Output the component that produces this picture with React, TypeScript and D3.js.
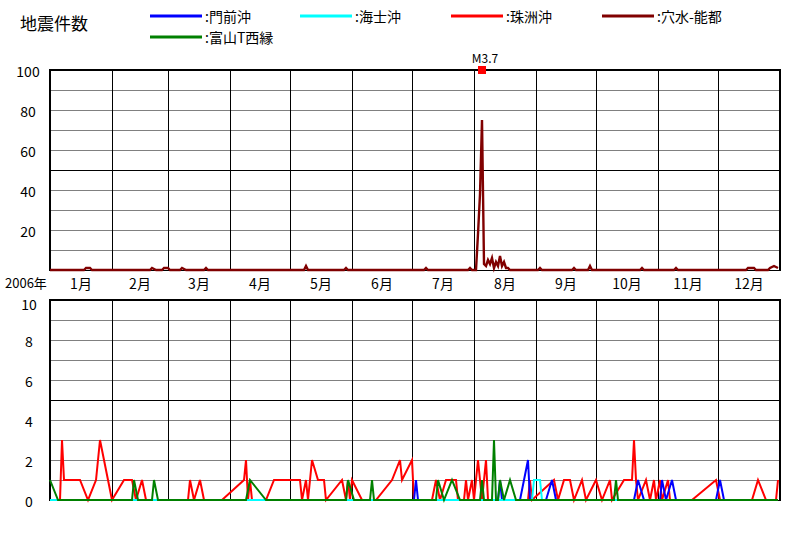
import React from 'react';
import * as d3 from 'd3';

// ---- data ----
// Each point: [day index from 2006-01-01 (0 = Jan 1), number of earthquakes]
const monthLabels = ['1月', '2月', '3月', '4月', '5月', '6月', '7月', '8月', '9月', '10月', '11月', '12月'];
const topTicks = [20, 40, 60, 80, 100];
const bottomTicks = [0, 2, 4, 6, 8, 10];

const monzenOki: [number, number][] = [
  [0, 0], [182, 0], [183, 1], [184, 0], [224, 0], [225, 1], [226, 0], [235, 0], [239, 2], [240, 0],
  [248, 0], [251, 1], [253, 0], [292, 0], [294, 1], [297, 0], [305, 0], [306, 1], [308, 0], [311, 1],
  [313, 0], [333, 0], [335, 1], [337, 0], [364, 0],
];

const amaOki: [number, number][] = [
  [0, 0], [241, 0], [242, 1], [245, 1], [246, 0], [364, 0],
];

const suzuOki: [number, number][] = [
  [0, 0], [5, 0], [6, 3], [7, 1], [15, 1], [19, 0], [23, 1], [25, 3], [31, 0], [37, 1], [41, 1], [43, 0],
  [46, 1], [48, 0], [69, 0], [70, 1], [72, 0], [75, 1], [77, 0], [86, 0], [97, 1], [98, 2], [99, 0],
  [100, 1], [101, 0], [108, 0], [112, 1], [125, 1], [126, 0], [128, 1], [129, 0], [131, 2], [134, 1],
  [137, 1], [138, 0], [146, 1], [148, 0], [149, 1], [150, 0], [151, 1], [156, 0], [163, 0], [171, 1],
  [175, 2], [176, 1], [181, 2], [182, 0], [191, 0], [193, 1], [195, 0], [198, 1], [203, 1], [204, 0],
  [207, 0], [208, 1], [209, 0], [211, 1], [212, 0], [214, 2], [215, 1], [216, 0], [217, 1], [218, 2],
  [219, 0], [239, 0], [240, 1], [241, 0], [252, 1], [254, 0], [257, 1], [260, 1], [262, 0], [266, 1],
  [268, 0], [273, 1], [276, 0], [280, 1], [281, 0], [287, 1], [291, 1], [292, 3], [293, 1], [294, 0],
  [298, 1], [300, 0], [302, 1], [303, 0], [305, 1], [306, 0], [309, 1], [310, 0], [321, 0], [333, 1],
  [335, 0], [351, 0], [354, 1], [358, 0], [363, 0], [364, 1],
];

const anamizuNoto: [number, number][] = [
  [0, 0], [17, 0], [18, 1], [20, 1], [21, 0], [50, 0], [51, 1], [53, 0], [56, 0], [57, 1], [59, 1],
  [60, 0], [65, 0], [66, 1], [68, 0], [77, 0], [78, 1], [79, 0], [127, 0], [128, 2], [129, 0],
  [147, 0], [148, 1], [149, 0], [187, 0], [188, 1], [189, 0], [209, 0], [210, 1], [211, 0], [213, 0],
  [214, 18], [215, 38], [216, 75], [217, 3], [218, 2], [219, 5], [220, 3], [221, 6], [222, 1],
  [223, 4], [224, 2], [225, 7], [226, 2], [227, 4], [228, 1], [229, 1], [230, 0], [244, 0], [245, 1],
  [246, 0], [261, 0], [262, 1], [263, 0], [269, 0], [270, 2], [271, 0], [295, 0], [296, 1], [297, 0],
  [312, 0], [313, 1], [314, 0], [348, 0], [349, 1], [352, 1], [353, 0], [359, 0], [360, 1], [362, 2],
  [364, 1],
];

const toyamaWest: [number, number][] = [
  [0, 1], [4, 0], [41, 0], [42, 1], [44, 0], [51, 0], [52, 1], [54, 0], [98, 0], [100, 1], [108, 0],
  [148, 0], [149, 1], [152, 0], [160, 0], [161, 1], [162, 0], [193, 0], [194, 1], [197, 0], [201, 1],
  [205, 0], [215, 0], [216, 1], [217, 0], [221, 0], [222, 3], [223, 0], [224, 0], [225, 1], [227, 0],
  [230, 1], [233, 0], [282, 0], [283, 1], [284, 0], [364, 0],
];

const mainShockDay = 216;
const mainShockLabel = 'M3.7';

const legendItems = [
  { name: ':門前沖', color: '#0000ff', lx: 150, ly: 16 },
  { name: ':海士沖', color: '#00ffff', lx: 300, ly: 16 },
  { name: ':珠洲沖', color: '#ff0000', lx: 451, ly: 16 },
  { name: ':穴水-能都', color: '#800000', lx: 602, ly: 16 },
  { name: ':富山T西縁', color: '#008000', lx: 150, ly: 37 },
];

const FONT = '"Noto Sans CJK JP", "Liberation Sans", sans-serif';

export default function App() {
  const L = 50, R = 780;
  const t0 = new Date(Date.UTC(2006, 0, 1));
  const t1 = new Date(Date.UTC(2007, 0, 1));
  const x = d3.scaleUtc().domain([t0, t1]).range([L, R]);
  const dayX = (d: number) => x(d3.utcDay.offset(t0, d));
  const yTop = d3.scaleLinear().domain([0, 100]).range([270, 70]);
  const yBot = d3.scaleLinear().domain([0, 10]).range([500, 300]);

  const months = d3.utcMonth.range(t0, t1);
  const monthBounds = d3.utcMonth.range(d3.utcMonth.offset(t0, 1), t1);

  const lineTop = d3.line<[number, number]>().x(p => dayX(p[0])).y(p => yTop(p[1]));
  const lineBot = d3.line<[number, number]>().x(p => dayX(p[0])).y(p => yBot(p[1]));

  const topGrid = d3.range(10, 101, 10);
  const botGrid = d3.range(1, 11, 1);

  const panel = (y: d3.ScaleLinear<number, number>, grid: number[], major: number[], key: string) => (
    <g key={key}>
      {grid.map(v => (
        <line key={'h' + v} x1={L} x2={R} y1={y(v)} y2={y(v)}
          stroke={major.includes(v) ? '#000' : '#808080'} strokeWidth={1} shapeRendering="crispEdges" />
      ))}
      {monthBounds.map((m, i) => (
        <line key={'v' + i} x1={x(m)} x2={x(m)} y1={y.range()[1]} y2={y.range()[0]}
          stroke="#000" strokeWidth={1} shapeRendering="crispEdges" />
      ))}
      <line x1={L} x2={L} y1={y.range()[1] - 1} y2={y.range()[0] + 1} stroke="#000" strokeWidth={2} shapeRendering="crispEdges" />
      <line x1={R} x2={R} y1={y.range()[1] - 1} y2={y.range()[0] + 1} stroke="#000" strokeWidth={2} shapeRendering="crispEdges" />
      <line x1={L} x2={R} y1={y.range()[1]} y2={y.range()[1]} stroke="#000" strokeWidth={2} shapeRendering="crispEdges" />
      <line x1={L} x2={R} y1={y.range()[0]} y2={y.range()[0]} stroke="#000" strokeWidth={1} shapeRendering="crispEdges" />
    </g>
  );

  return (
    <svg width={800} height={540} style={{ position: 'absolute', left: 0, top: 0, background: '#fff' }}
      fontFamily={FONT}>
      <rect width={800} height={540} fill="#fff" />
      <text x={20} y={22} fontSize={17} dominantBaseline="central">地震件数</text>
      {legendItems.map(it => (
        <g key={it.name}>
          <line x1={it.lx} x2={it.lx + 52} y1={it.ly} y2={it.ly} stroke={it.color} strokeWidth={3} />
          <text x={it.lx + 55} y={it.ly} fontSize={14} dominantBaseline="central">{it.name}</text>
        </g>
      ))}

      {panel(yTop, topGrid, [50, 100], 'top')}
      {panel(yBot, botGrid, [5, 10], 'bot')}

      {topTicks.map(v => (
        <text key={'tt' + v} x={28} y={yTop(v) + 1} fontSize={14} textAnchor="middle" dominantBaseline="central">{v}</text>
      ))}
      {bottomTicks.map(v => (
        <text key={'bt' + v} x={29} y={yBot(v) + (v === 10 ? 4 : 1)} fontSize={14} textAnchor="middle" dominantBaseline="central">{v}</text>
      ))}

      <text x={5} y={282} fontSize={13} dominantBaseline="central">2006年</text>
      {months.map((m, i) => (
        <text key={'m' + i} x={(x(m) + x(d3.utcMonth.offset(m, 1))) / 2} y={283} fontSize={14}
          textAnchor="middle" dominantBaseline="central">{monthLabels[i]}</text>
      ))}

      <path d={lineTop(anamizuNoto) || ''} fill="none" stroke="#800000" strokeWidth={2.4} strokeLinejoin="miter" />

      <rect x={dayX(mainShockDay) - 4} y={yTop(100) - 4} width={8} height={8} fill="#ff0000" />
      <text x={dayX(mainShockDay) + 3} y={57} fontSize={12} textAnchor="middle" dominantBaseline="central">{mainShockLabel}</text>

      <path d={lineBot(suzuOki) || ''} fill="none" stroke="#ff0000" strokeWidth={2} />
      <path d={lineBot(monzenOki) || ''} fill="none" stroke="#0000ff" strokeWidth={2} />
      <path d={lineBot(amaOki) || ''} fill="none" stroke="#00ffff" strokeWidth={2} />
      <path d={lineBot(toyamaWest) || ''} fill="none" stroke="#008000" strokeWidth={2} />
    </svg>
  );
}
